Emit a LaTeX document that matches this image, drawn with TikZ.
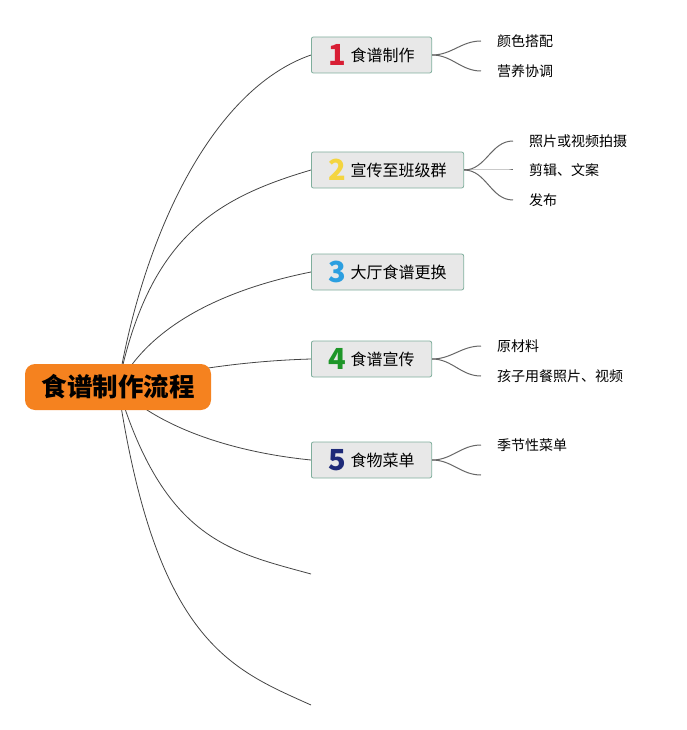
\documentclass[tikz,border=0pt]{standalone}
\usepackage{fontspec}
\newfontfamily\cjk{Noto Sans CJK SC}
\pgfdeclarelayer{background layer}
\pgfsetlayers{background layer,main}
\definecolor{rootorange}{HTML}{F5821F}
\definecolor{topicfill}{HTML}{E8E8E8}
\definecolor{topicedge}{HTML}{7FAE9C}
\definecolor{linegray}{HTML}{444444}
\definecolor{twiggray}{HTML}{666666}
\definecolor{numred}{HTML}{D81E34}
\definecolor{numyellow}{HTML}{F4D540}
\definecolor{numblue}{HTML}{2C9FE0}
\definecolor{numgreen}{HTML}{1E9628}
\definecolor{numnavy}{HTML}{1E2A78}
\newcommand\topicnum[2]{\raisebox{-4pt}{\color{#1}\bfseries\fontsize{29}{29}\selectfont #2}\hspace{1pt}}

\begin{document}
\begin{tikzpicture}[x=1pt,y=-1pt,
    root/.style={rounded corners=10pt, fill=rootorange, minimum width=186pt, minimum height=46pt, font=\cjk\bfseries\fontsize{25.5}{30}\selectfont},
    topic/.style={draw=topicedge, line width=0.8pt, fill=topicfill, rounded corners=2pt, anchor=west, minimum height=36pt, inner xsep=17pt, font=\cjk\fontsize{16}{18}\selectfont},
    sub/.style={anchor=west, inner xsep=16pt, font=\cjk\fontsize{14}{16}\selectfont},
    branch/.style={draw=linegray, line width=0.8pt},
    twig/.style={draw=twiggray, line width=1pt}]
      \useasboundingbox (0,0) rectangle (687,730);
      \node[root] (root) at (118,387) {食谱制作流程};
      \node[topic] (t1) at (311,55) {\topicnum{numred}{1} 食谱制作};
      \node[topic] (t2) at (311,170) {\topicnum{numyellow}{2} 宣传至班级群};
      \node[topic] (t3) at (311,272) {\topicnum{numblue}{3} 大厅食谱更换};
      \node[topic] (t4) at (311,359) {\topicnum{numgreen}{4} 食谱宣传};
      \node[topic] (t5) at (311,460) {\topicnum{numnavy}{5} 食物菜单};
      \coordinate (e6) at (311,574);
      \coordinate (e7) at (311,705);
      \node[sub] (s11) at (481,41) {颜色搭配};
      \node[sub] (s12) at (481,71) {营养协调};
      \node[sub] (s21) at (513,141) {照片或视频拍摄};
      \node[sub] (s22) at (513,170) {剪辑、文案};
      \node[sub] (s23) at (513,200) {发布};
      \node[sub] (s41) at (481,346) {原材料};
      \node[sub] (s42) at (481,376) {孩子用餐照片、视频};
      \node[sub] (s51) at (481,445) {季节性菜单};
      \coordinate (s52) at (481,475);
      \begin{pgfonlayer}{background layer}
        \draw[branch] (root.center) .. controls (142,240) and (210,90) .. (t1.west);
        \draw[branch] (root.center) .. controls (148,237) and (216,198) .. (t2.west);
        \draw[branch] (root.center) .. controls (148,327) and (221,290) .. (t3.west);
        \draw[branch] (root.center) .. controls (170,372) and (240,361) .. (t4.west);
        \draw[branch] (root.center) .. controls (158,427) and (231,452) .. (t5.west);
        \draw[branch] (root.center) .. controls (164,540) and (231,552) .. (e6);
        \draw[branch] (root.center) .. controls (156,642) and (231,669) .. (e7);
      \end{pgfonlayer}
      \draw[twig] (t1.east) to[out=0,in=180] (s11.west);
      \draw[twig] (t1.east) to[out=0,in=180] (s12.west);
      \draw[twig] (t2.east) to[out=0,in=180] (s21.west);
      \draw[twig] (t2.east) to[out=0,in=180] (s22.west);
      \draw[twig] (t2.east) to[out=0,in=180] (s23.west);
      \draw[twig] (t4.east) to[out=0,in=180] (s41.west);
      \draw[twig] (t4.east) to[out=0,in=180] (s42.west);
      \draw[twig] (t5.east) to[out=0,in=180] (s51.west);
      \draw[twig] (t5.east) to[out=0,in=180] (s52);
    \end{tikzpicture}
\end{document}
